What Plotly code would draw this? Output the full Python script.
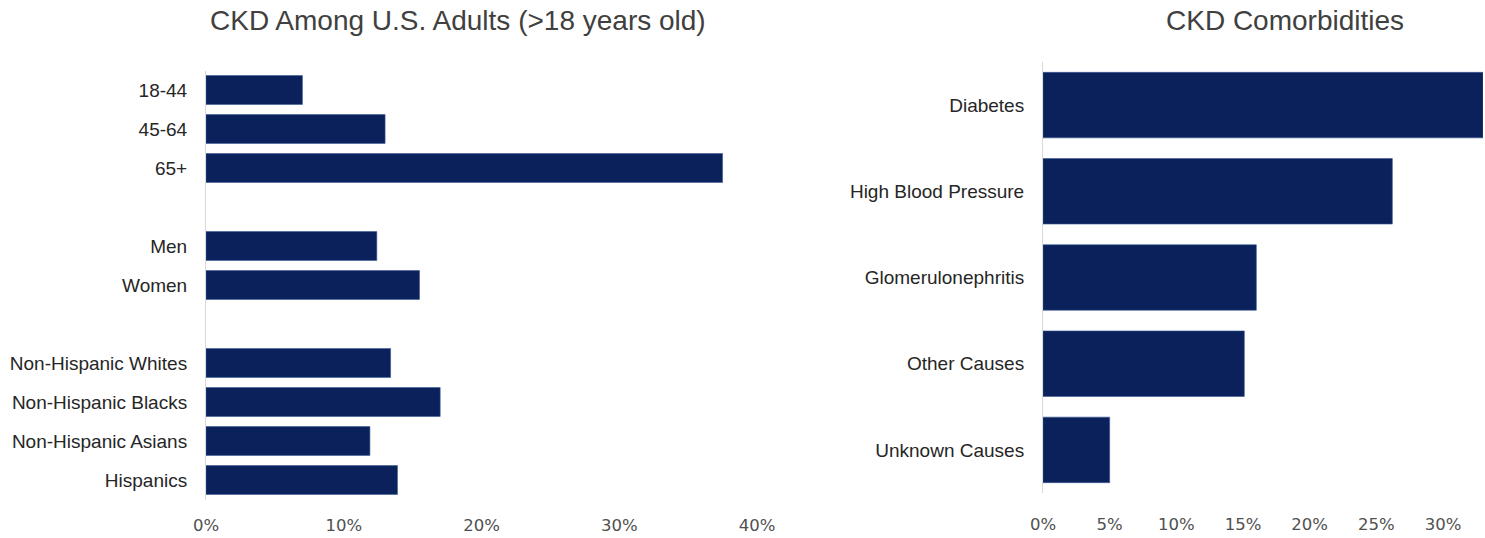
import plotly.graph_objects as go

# ---- data ----
age_groups = ["18-44", "45-64", "65+"]
age_values = [7.0, 13.0, 37.5]
sex_groups = ["Men", "Women"]
sex_values = [12.4, 15.5]
race_groups = ["Non-Hispanic Whites", "Non-Hispanic Blacks", "Non-Hispanic Asians", "Hispanics"]
race_values = [13.4, 17.0, 11.9, 13.9]

comorbidities = ["Diabetes", "High Blood Pressure", "Glomerulonephritis", "Other Causes", "Unknown Causes"]
comorbidity_values = [33.0, 26.2, 16.0, 15.1, 5.0]

left_ticks = [0, 10, 20, 30, 40]
left_tick_labels = ["0%", "10%", "20%", "30%", "40%"]
right_ticks = [0, 5, 10, 15, 20, 25, 30]
right_tick_labels = ["0%", "5%", "10%", "15%", "20%", "25%", "30%"]

# build left categories with spacer rows between groups
left_cats = age_groups + [" "] + sex_groups + ["  "] + race_groups
left_vals = age_values + [None] + sex_values + [None] + race_values

NAVY = "#0a215c"
TEXT = "#404040"
FIG_W, FIG_H = 1485, 538

fig = go.Figure()
fig.add_trace(go.Bar(
    x=left_vals, y=left_cats, orientation="h",
    marker=dict(color=NAVY, line=dict(color="#3b5a94", width=0.6)),
    width=0.74, xaxis="x", yaxis="y", showlegend=False, hoverinfo="x+y",
))
fig.add_trace(go.Bar(
    x=comorbidity_values, y=comorbidities, orientation="h",
    marker=dict(color=NAVY, line=dict(color="#3b5a94", width=0.6)),
    width=0.76, xaxis="x2", yaxis="y2", showlegend=False, hoverinfo="x+y",
))

def px_x(p):
    return p / FIG_W

def px_y(p):
    return 1 - p / FIG_H

tick_font = dict(family="DejaVu Sans, Verdana, sans-serif", size=16.5, color="#505050")
label_family = "Liberation Sans, Arial, sans-serif"

fig.update_layout(
    width=FIG_W, height=FIG_H,
    margin=dict(l=0, r=0, t=0, b=0, autoexpand=False),
    plot_bgcolor="white", paper_bgcolor="white",
    xaxis=dict(
        domain=[px_x(206), px_x(757)], range=[0, 40], anchor="y",
        tickvals=left_ticks, ticktext=left_tick_labels,
        showgrid=False, zeroline=False, showline=False,
        tickfont=tick_font, ticks="", ticklabelstandoff=14,
        fixedrange=True, automargin=False,
    ),
    yaxis=dict(
        domain=[px_y(499.5), px_y(70.5)], anchor="x",
        type="category", categoryorder="array", categoryarray=left_cats,
        autorange="reversed",
        showgrid=False, zeroline=False,
        showline=True, linecolor="#d9d9d9", linewidth=1,
        tickfont=dict(family=label_family, size=19, color="#262626"),
        ticks="", ticklabelstandoff=14, automargin=False,
    ),
    xaxis2=dict(
        domain=[px_x(1043), px_x(1483)], range=[0, 33], anchor="y2",
        tickvals=right_ticks, ticktext=right_tick_labels,
        showgrid=False, zeroline=False, showline=False,
        tickfont=tick_font, ticks="", ticklabelstandoff=19,
        fixedrange=True, automargin=False,
    ),
    yaxis2=dict(
        domain=[px_y(493), px_y(62)], anchor="x2",
        type="category", categoryorder="array", categoryarray=comorbidities,
        autorange="reversed",
        showgrid=False, zeroline=False,
        showline=True, linecolor="#d9d9d9", linewidth=1,
        tickfont=dict(family=label_family, size=19, color="#262626"),
        ticks="", ticklabelstandoff=14, automargin=False,
    ),
    annotations=[
        dict(text="CKD Among U.S. Adults (>18 years old)", x=px_x(458), y=px_y(21),
             xref="paper", yref="paper", xanchor="center", yanchor="middle", showarrow=False,
             font=dict(family=label_family, size=28, color=TEXT)),
        dict(text="CKD Comorbidities", x=px_x(1285), y=px_y(21),
             xref="paper", yref="paper", xanchor="center", yanchor="middle", showarrow=False,
             font=dict(family=label_family, size=28, color=TEXT)),
    ],
)

fig.write_html("out.html")
